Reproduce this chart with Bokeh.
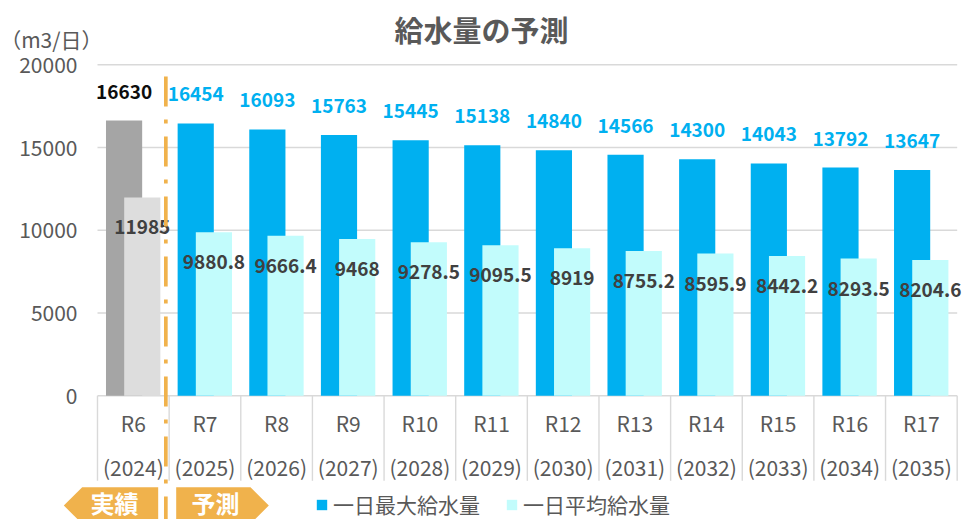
import numpy as np
from bokeh.plotting import figure
from bokeh.models import (Range1d, LinearAxis, FixedTicker, Label, Legend,
                          LegendItem, ColumnDataSource)
from bokeh.core.properties import value
from bokeh.embed import file_html
from bokeh.resources import INLINE

# ---------------- data ----------------
categories = ["R6", "R7", "R8", "R9", "R10", "R11", "R12", "R13", "R14", "R15", "R16", "R17"]
years = ["(2024)", "(2025)", "(2026)", "(2027)", "(2028)", "(2029)",
         "(2030)", "(2031)", "(2032)", "(2033)", "(2034)", "(2035)"]
max_supply = [16630, 16454, 16093, 15763, 15445, 15138, 14840, 14566, 14300, 14043, 13792, 13647]
avg_supply = [11985, 9880.8, 9666.4, 9468, 9278.5, 9095.5, 8919, 8755.2, 8595.9, 8442.2, 8293.5, 8204.6]
y_ticks = [0, 5000, 10000, 15000, 20000]
series_names = ["一日最大給水量", "一日平均給水量"]
period_names = ["実績", "予測"]
title_text = "給水量の予測"
unit_text = "（m3/日）"
n_actual = 1  # number of actual (実績) years

# ---------------- layout constants ----------------
FONT = "Noto Sans CJK JP"
W, H = 966, 519
PLOT_LEFT = 97.0          # px from canvas left to first category edge
CAT_W = 71.64             # px per category
ZERO_Y = 395.3            # px from canvas top to value 0
PX_PER_UNIT = 331.0 / 20000.0

def dx(px):
    return px / CAT_W

def dy(px):
    return px / PX_PER_UNIT

n = len(categories)
x_start = -PLOT_LEFT / CAT_W
x_end = (W - PLOT_LEFT) / CAT_W
y_end = ZERO_Y / PX_PER_UNIT
y_start = -(H - ZERO_Y) / PX_PER_UNIT

GRAY_TXT = "#595959"
BLUE = "#00B0F0"
CYAN = "#C2FCFC"
ORANGE = "#F0B24C"
LINE_GRAY = "#D9D9D9"

p = figure(width=W, height=H, output_backend="svg", toolbar_location=None,
           x_range=Range1d(x_start, x_end), y_range=Range1d(y_start, y_end),
           x_axis_location=None, y_axis_location=None,
           min_border=0, min_border_left=0, min_border_right=0,
           min_border_top=0, min_border_bottom=0)
p.outline_line_color = None
p.xgrid.visible = False
p.ygrid.visible = False
p.background_fill_color = "white"
p.border_fill_color = "white"

centers = np.arange(n) + 0.5
BAR_W = 0.505
max_x = centers - 0.129
avg_x = centers + 0.125

def fmt(v):
    return f"{v:g}"

# grid lines & zero line
p.segment(x0=[0] * len(y_ticks), y0=y_ticks, x1=[n] * len(y_ticks), y1=y_ticks,
          line_color=LINE_GRAY, line_width=1.4)
# category separators below the axis
bounds = np.arange(n + 1)
p.segment(x0=bounds, y0=[0] * (n + 1), x1=bounds, y1=[-dy(85)] * (n + 1),
          line_color=LINE_GRAY, line_width=1.4)

def make_src(sl):
    return ColumnDataSource(dict(
        mx=list(max_x[sl]), ax=list(avg_x[sl]),
        mv=max_supply[sl], av=avg_supply[sl],
        ml=[fmt(v) for v in max_supply[sl]], al=[fmt(v) for v in avg_supply[sl]]))

src_act = make_src(slice(0, n_actual))
src_fc = make_src(slice(n_actual, n))

p.vbar(x="mx", top="mv", bottom=0, width=BAR_W, source=src_act,
       fill_color="#A5A5A5", line_color=None)
p.vbar(x="ax", top="av", bottom=0, width=BAR_W, source=src_act,
       fill_color="#DDDDDD", line_color=None)
r_max = p.vbar(x="mx", top="mv", bottom=0, width=BAR_W, source=src_fc,
               fill_color=BLUE, line_color=None)
r_avg = p.vbar(x="ax", top="av", bottom=0, width=BAR_W, source=src_fc,
               fill_color=CYAN, line_color=None)

# value labels
lab_kw = dict(text_font=value(FONT), text_font_size="19px", text_font_style="bold",
              text_align="center", text_baseline="middle")
p.text(x="mx", y="mv", text="ml", source=src_act, text_color="#0D0D0D", y_offset=-29, **lab_kw)
p.text(x="mx", y="mv", text="ml", source=src_fc, text_color=BLUE, y_offset=-29, **lab_kw)
p.text(x="ax", y="av", text="al", source=src_act, text_color="#404040", y_offset=30, **lab_kw)
p.text(x="ax", y="av", text="al", source=src_fc, text_color="#404040", y_offset=30, **lab_kw)

# category labels
cat_kw = dict(text_font=value(FONT), text_font_size="21px", text_color=GRAY_TXT,
              text_align="center", text_baseline="middle")
p.text(x=centers, y=[0] * n, text=categories, y_offset=27.4, **cat_kw)
p.text(x=centers, y=[0] * n, text=years, y_offset=70.7, **cat_kw)

# y axis
yaxis = LinearAxis(ticker=FixedTicker(ticks=y_ticks), fixed_location=0,
                   axis_line_color=None, major_tick_line_color=None,
                   minor_tick_line_color=None, major_tick_in=0, major_tick_out=0,
                   major_label_standoff=20, major_label_text_font=FONT,
                   major_label_text_font_size="21px", major_label_text_color=GRAY_TXT)
p.add_layout(yaxis, "left")

# divider between actual and forecast
DIV_X = n_actual - dx(3.3)
p.line(x=[DIV_X, DIV_X], y=[dy(319.3), y_start - dy(10)], line_color=ORANGE,
       line_width=3.7, line_dash="30 13 4 13")

# period arrows
top_a, mid_a, bot_a = -dy(91.4), -dy(109.7), -dy(128.0)
lx_tip, lx_body, lx_right = dx(63.3 - 97), dx(81.7 - 97), dx(157.7 - 97)
rx_left, rx_body, rx_tip = dx(175.7 - 97), dx(250 - 97), dx(268.3 - 97)
p.patches(xs=[[lx_tip, lx_body, lx_right, lx_right, lx_body],
              [rx_left, rx_body, rx_tip, rx_body, rx_left]],
          ys=[[mid_a, top_a, top_a, bot_a, bot_a],
              [top_a, top_a, mid_a, bot_a, bot_a]],
          fill_color=ORANGE, line_color=None)
p.text(x=[dx(114 - 97), dx(215 - 97)], y=[mid_a, mid_a], text=period_names,
       text_font=value(FONT), text_font_size="24px", text_font_style="bold",
       text_color="white", text_align="center", text_baseline="middle", y_offset=-3)

# title and unit
p.add_layout(Label(x=481, y=H - 28.5, x_units="screen", y_units="screen", text=title_text,
                   text_font=FONT, text_font_size="29px", text_font_style="bold",
                   text_color=GRAY_TXT, text_align="center", text_baseline="middle"))
p.add_layout(Label(x=102, y=H - 38, x_units="screen", y_units="screen", text=unit_text,
                   text_font=FONT, text_font_size="21px", text_color=GRAY_TXT,
                   text_align="right", text_baseline="middle"))

legend = Legend(items=[LegendItem(label=series_names[0], renderers=[r_max]),
                       LegendItem(label=series_names[1], renderers=[r_avg])],
                location=(315, 0), orientation="horizontal", spacing=25,
                label_standoff=5, glyph_width=13, glyph_height=13, padding=0, margin=0,
                border_line_color=None, background_fill_alpha=0,
                label_text_font=FONT, label_text_font_size="21px",
                label_text_color=GRAY_TXT)
p.add_layout(legend)

open("out.html", "w").write(file_html(p, INLINE))
